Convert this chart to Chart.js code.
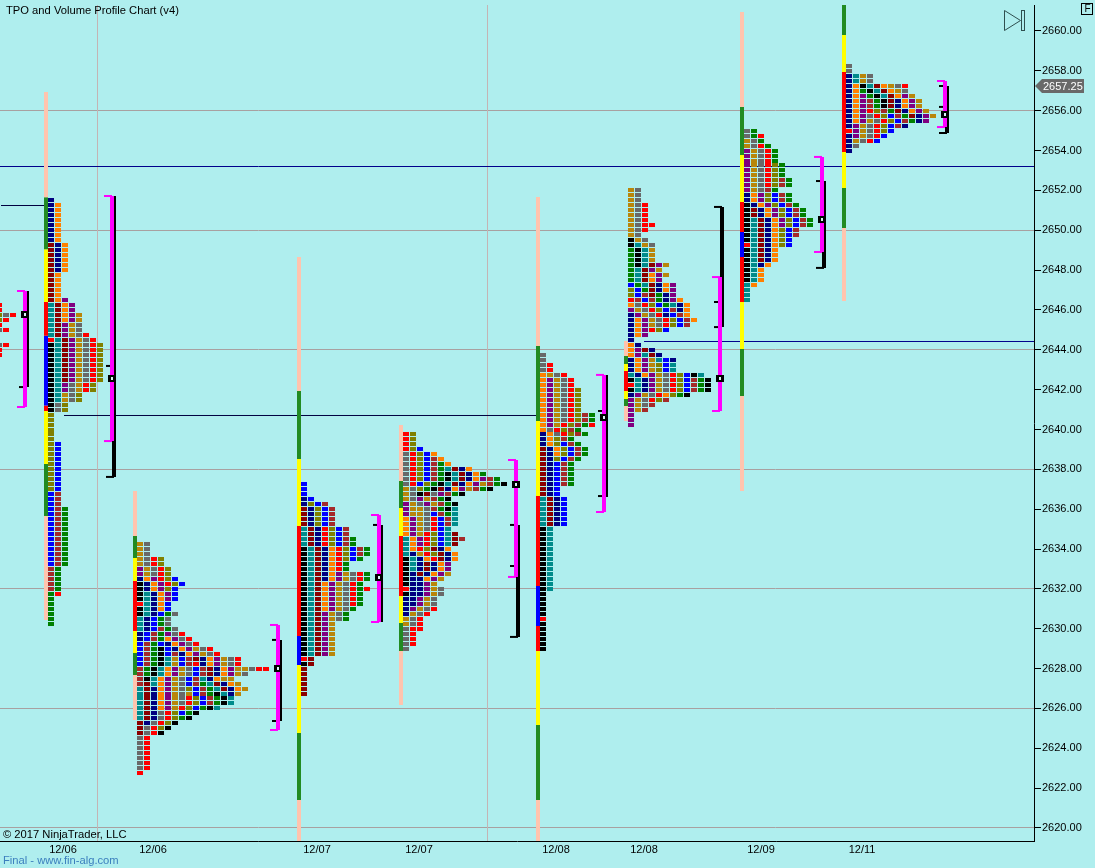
<!DOCTYPE html>
<html>
<head>
<meta charset="utf-8">
<title>TPO and Volume Profile Chart (v4)</title>
<style>
  html, body { margin: 0; padding: 0; background: #AFEEEE; overflow: hidden; }
  canvas { display: block; }
</style>
<script src="https://cdn.jsdelivr.net/npm/chart.js@4/dist/chart.umd.min.js"></script>
</head>
<body>
<canvas id="tpoChart" width="1095" height="868"></canvas>
<script>
// === AXES ===
const priceTicks = [2620, 2622, 2624, 2626, 2628, 2630, 2632, 2634, 2636, 2638, 2640, 2642, 2644, 2646, 2648, 2650, 2652, 2654, 2656, 2658, 2660];
const gridPrices = [2620, 2626, 2632, 2638, 2644, 2650, 2656];
const dateTicks = [63, 153, 317, 419, 556, 644, 761, 862];
const dateLabels = ["12/06", "12/06", "12/07", "12/07", "12/08", "12/08", "12/09", "12/11"];
const lastPrice = 2657.25;

// === TPO PROFILES: one letter per period, "row*n" repeats a row n times ===
const profile0 = ["r*2", "lar", "lr", "r", "ar", "*2", "ar", "r*2"];
const profile1 = ["n", "no*8", "mno*6", "mo*5", "mop", "tmop*2", "tmopg*2", "tmpga*2", "tmpgar", "rtmpgar", "ktmpgarl*8",
  "ktpagrl*2", "ktgal*2", "kal*2", "l*6", "lb*10", "bw*3", "bwe*12", "we*5", "er", "e*6"];
const profile2 = ["ga*3", "garl*2", "pgarl*2", "noprlb", "knoprlb", "knoplb", "ktnopb*2", "rtnob", "ktnob", "ktnbea", "tnbea*2",
  "tnbwea", "nbwepar", "nbweopar", "bwebnopar", "bwekbnopgar", "bwekbwnopgar", "bwektgbwmnopgar", "bwektgbwrnopgar",
  "wektopgabwmnopggarr", "wektopgabwmnopga", "wktopgabwtnogg", "wmtopgabwetmnog", "tmnopgalbwetmnog", "tmnopgagbwektng",
  "tmnopgarlbwekt*2", "tmnopgrlbekt", "tmnarlbek", "tmnarlek", "mnarlk", "marlk", "mark", "ar*7", "r"];
const profile3 = ["b*3", "nb", "nlbw", "mnlbw*4", "tmnrlbw*2", "tmnrlbwe*2", "ktmnorlbwe*2", "ktmnorlbe", "ktmnore*2",
  "ktmnopgare*2", "ktmopgare", "ktmopgarer", "ktmopgare*3", "ktmopgae", "ktmpgae*2", "ktmpg*7", "rm", "km", "m*6"];
const profile4 = ["rl*3", "rlb", "arlbo", "arlbwo", "arlbweo", "arlbwetmno", "arlbwektmnoe", "arlbwektmnopwe", "arblektmnopgwek",
  "galekmnopgwek", "gakmapwek", "gapgwek", "pgapgwek", "pggawekt", "pggabwet", "opgarbwt*2", "opgarbt", "opgrlbtm",
  "toprlbtmw", "toprlbtm", "torlmno", "tngrlmno", "ktnormno", "ktnmnop*2", "knmnopg", "knnopg", "knnpg", "rnnpga", "knnpga",
  "nnpga*2", "npgar", "ngar", "gar*2", "arr", "ar*3", "a"];
const profile5 = ["a*2", "ar*2", "ogar", "opgar*2", "opgarl*5", "opgarlwe*2", "opgrlwer", "oarlwe", "noarlwe", "nolwe", "nolbwe",
  "mnolbwe*2", "mnlbwe", "mnbwe*5", "mnb*2", "tmnb*6", "kt*13", "k*5", "r", "k*6"];
const profile6 = ["ga*3", "gar*4", "garr", "gar", "ga", "kga", "ktga", "ektg*3", "ektmpg", "etmpg", "etmopg", "etmop", "betmnop",
  "lbemnop", "lbwmenp", "rwbwenpo", "oarlbetno", "pgarlbwno", "npgarnbwo", "nopgarlbwo", "nopgarlbw", "noprlb", "nop", "n",
  "on", "opmn", "optmn", "nopgtbn", "nopglbt*2", "tnopgarlbkt", "ktnpgarlbwek", "rtnpgarlbwek", "ktnpgarlbwek", "npgarolek",
  "pgarlw", "pgaw", "pgw", "p*3"];
const profile7 = ["ae", "aer", "gae", "gare", "pgare*3", "pgarle*3", "pgarlwe*2", "pgawe", "noplbwe*2", "knoplbwe", "kmnoplbwe*2",
  "ktmnoplbwe*2", "ktmnolbw*2", "ktmnolb", "rtmnolb", "ktmno*3", "ktno", "kto*3", "to", "t*3"];
const profile8 = ["a*2", "ntga*2", "noktmogar", "noektmoga", "nopektmopg", "nopwekmnopg*2", "noprlwemnopg", "noparlbwemnpg",
  "nopgarlbwenp", "npgarlbwn", "rpgarlb", "npgarb", "ngarb", "na", "n"];

const profiles = [profile0, profile1, profile2, profile3, profile4, profile5, profile6, profile7, profile8];
const profileTop = [2646.25, 2651.5, 2634.25, 2637.25, 2639.75, 2643.75, 2652, 2655, 2658.25];
const profileLeft = [-4, 48, 137, 301, 403, 540, 628, 744, 846];

// === SESSION RANGE BARS: breaks in price, one colour letter per segment ===
const barX = [46, 135, 299, 401, 538, 626, 742, 844];
const barBreaks = [
  [2656.94, 2651.65, 2649.05, 2646.4, 2644.7, 2641.2, 2640.93, 2638.27, 2635.66, 2630.44],
  [2636.91, 2634.65, 2633.55, 2632.4, 2629.89, 2628.78, 2627.68, 2625.42],
  [2648.66, 2641.93, 2638.52, 2635.16, 2629.64, 2628.18, 2624.77, 2621.41, 2619.35],
  [2640.23, 2637.42, 2636.06, 2634.66, 2631.64, 2630.29, 2628.88, 2626.17],
  [2651.67, 2644.19, 2640.43, 2636.66, 2632.15, 2630.14, 2628.88, 2625.17, 2621.41, 2619.35],
  [2644.44, 2643.69, 2643.29, 2642.94, 2641.93, 2641.53, 2641.18, 2640.43],
  [2660.95, 2656.19, 2653.78, 2651.42, 2649.91, 2648.66, 2646.4, 2644.04, 2641.68, 2636.91],
  [2661.3, 2659.8, 2657.94, 2653.93, 2652.12, 2650.11, 2646.45]
];
const barSegments = ["sGYRBRYGs", "sGYRYGs", "sGYRBYGs", "sGYRYGs", "sGYRBRYGs", "sGYRYGs", "sGYRBRYGs", "GYRYGs"];

// === VALUE AREA BRACKETS AND POC ===
const bracketX = [25, 112, 278, 379, 516, 604, 720, 822, 945];
const magentaTop = [2646.95, 2651.72, 2630.19, 2635.71, 2638.47, 2642.74, 2647.65, 2653.68, 2657.49];
const magentaBottom = [2641.13, 2639.42, 2624.92, 2630.34, 2632.6, 2635.86, 2640.93, 2648.91, 2655.18];
const blackTop = [2646.95, 2651.72, 2629.44, 2635.21, 2635.21, 2642.74, 2651.17, 2652.47, 2657.24];
const blackBottom = [2642.13, 2637.62, 2625.37, 2630.34, 2629.59, 2636.61, 2645.14, 2648.11, 2654.88];
const blackMarks = [
  [2642.13], [2643.19, 2637.62], [2629.44, 2625.37], [2635.21], [2635.21, 2633.15, 2629.59],
  [2640.93, 2636.66], [2651.17, 2646.4, 2645.14], [2652.47, 2648.11], [2657.24, 2656.19, 2654.88]
];
const pocPrice = [2645.77, 2642.55, 2628.03, 2632.55, 2637.26, 2640.58, 2642.54, 2650.56, 2655.83];

// === LEVELS [price, from, to] AND SESSION BREAKS ===
const navyLevels = [[2653.199, 0, 1034], [2644.417, 644, 1034]];
const darkLevels = [[2651.242, 1, 45], [2640.703, 64, 537]];
const sessionBreaks = [97.5, 487.5];

const cellColors = {
  n: "#000080", o: "#FF8000", m: "#8B0000", t: "#008B8B", p: "#800080", g: "#B8860B", a: "#696969",
  r: "#FF0000", l: "#808000", k: "#000000", b: "#0000FF", w: "#A52A2A", e: "#008000"
};
const barColors = { s: "#FFC4AE", G: "#228B22", Y: "#FFFF00", R: "#FF0000", B: "#0000FF" };

function makeStamp(w, h, color, hole) {
  const c = document.createElement("canvas");
  c.width = w;
  c.height = h;
  const g = c.getContext("2d");
  g.fillStyle = color;
  g.fillRect(0, 0, w, h);
  if (hole) {
    g.fillStyle = "#D8F6F6";
    g.fillRect(3, 2, 2, 3);
  }
  return c;
}

// rows of letters -> one point list per colour
const cellPoints = {};
Object.keys(cellColors).forEach(k => { cellPoints[k] = []; });
profiles.forEach((rows, s) => {
  let price = profileTop[s];
  rows.forEach(row => {
    const [letters, times] = row.split("*");
    for (let i = 0; i < (times ? Number(times) : 1); i++) {
      [...letters].forEach((ch, col) => {
        cellPoints[ch].push({ x: profileLeft[s] + col * 7 + 3, y: price });
      });
      price -= 0.25;
    }
  });
});

const datasets = [];
function addLine(x1, y1, x2, y2, color, width, order) {
  datasets.push({
    data: [{ x: x1, y: y1 }, { x: x2, y: y2 }],
    showLine: true,
    borderColor: color,
    borderWidth: width,
    borderCapStyle: "butt",
    pointRadius: 0,
    order: order
  });
}

sessionBreaks.forEach(x => addLine(x, 2619, x, 2662, "#C4B4B4", 1, 9));
navyLevels.forEach(l => addLine(l[1], l[0], l[2], l[0], "#00008B", 1, 8));
darkLevels.forEach(l => addLine(l[1], l[0], l[2], l[0], "#000040", 1, 8));

barX.forEach((x, s) => {
  [...barSegments[s]].forEach((seg, i) => {
    addLine(x, barBreaks[s][i], x, barBreaks[s][i + 1], barColors[seg], 4, 7);
  });
});

bracketX.forEach((x, s) => {
  addLine(x + 2, blackTop[s], x + 2, blackBottom[s], "#000000", 4, 6);
  blackMarks[s].forEach(p => addLine(x - 6, p, x + 2, p, "#000000", 2, 6));
  addLine(x, magentaTop[s], x, magentaBottom[s], "#FF00FF", 4, 5);
  addLine(x - 8, magentaTop[s], x, magentaTop[s], "#FF00FF", 2, 5);
  addLine(x - 8, magentaBottom[s], x, magentaBottom[s], "#FF00FF", 2, 5);
});

Object.keys(cellColors).forEach(k => {
  datasets.push({
    data: cellPoints[k],
    pointStyle: makeStamp(6, 4, cellColors[k]),
    pointRadius: 3,
    order: 3
  });
});

datasets.push({
  data: pocPrice.map((p, s) => ({ x: bracketX[s], y: p })),
  pointStyle: makeStamp(8, 7, "#000000", true),
  pointRadius: 4,
  order: 1
});

// snap the cell stamps to whole pixels like the original platform does
const snapCells = {
  id: "snapCells",
  beforeDatasetsDraw(chart) {
    const ctx = chart.ctx;
    const orig = ctx.drawImage.bind(ctx);
    ctx.drawImage = function (img, x, y, w, h) {
      const t = ctx.getTransform();
      ctx.save();
      ctx.setTransform(1, 0, 0, 1, 0, 0);
      orig(img, Math.round(t.e + x), Math.round(t.f + y), w, h);
      ctx.restore();
    };
    chart.$restoreDraw = () => { delete ctx.drawImage; };
  },
  afterDatasetsDraw(chart) {
    chart.$restoreDraw();
  }
};

const overlay = {
  id: "overlay",
  afterDraw(chart) {
    const ctx = chart.ctx;
    const yScale = chart.scales.y;
    ctx.save();
    ctx.textBaseline = "middle";
    ctx.textAlign = "left";
    ctx.font = "11.2px 'Liberation Sans'";
    ctx.fillStyle = "#000000";
    ctx.fillText("TPO and Volume Profile Chart (v4)", 6, 11);
    ctx.fillText("\u00A9 2017 NinjaTrader, LLC", 3, 835);
    ctx.fillStyle = "#3C7FBE";
    ctx.fillText("Final - www.fin-alg.com", 3, 861);

    // jump-to-last icon
    ctx.strokeStyle = "#2F4F4F";
    ctx.lineWidth = 1;
    ctx.beginPath();
    ctx.moveTo(1004.5, 10.5);
    ctx.lineTo(1020.5, 20.5);
    ctx.lineTo(1004.5, 30.5);
    ctx.closePath();
    ctx.stroke();
    ctx.strokeRect(1021.5, 10.5, 3, 20);

    // F button
    ctx.strokeStyle = "#000000";
    ctx.strokeRect(1081.5, 3.5, 11, 11);
    ctx.fillStyle = "#000000";
    ctx.font = "10px 'Liberation Sans'";
    ctx.textAlign = "center";
    ctx.fillText("F", 1087.5, 9.5);

    // last price tag
    const py = Math.round(yScale.getPixelForValue(lastPrice));
    ctx.fillStyle = "#696969";
    ctx.beginPath();
    ctx.moveTo(1035, py);
    ctx.lineTo(1042, py - 7);
    ctx.lineTo(1084, py - 7);
    ctx.lineTo(1084, py + 7);
    ctx.lineTo(1042, py + 7);
    ctx.closePath();
    ctx.fill();
    ctx.fillStyle = "#FFFFFF";
    ctx.font = "11px 'Liberation Sans'";
    ctx.textAlign = "left";
    ctx.fillText(lastPrice.toFixed(2), 1043, py + 1);
    ctx.restore();
  }
};

new Chart(document.getElementById("tpoChart").getContext("2d"), {
  type: "scatter",
  data: { datasets: datasets },
  options: {
    responsive: false,
    animation: false,
    events: [],
    layout: { autoPadding: false, padding: { top: 5, left: 0, right: 0, bottom: 0 } },
    plugins: { legend: { display: false }, tooltip: { enabled: false }, title: { display: false } },
    scales: {
      x: {
        type: "linear",
        min: 0,
        max: 1034,
        afterFit: scale => { scale.height = 27; scale.paddingLeft = 0; scale.paddingRight = 0; },
        afterBuildTicks: scale => { scale.ticks = dateTicks.map(v => ({ value: v })); },
        grid: { display: false, drawTicks: false },
        border: { color: "#000000", width: 1 },
        ticks: {
          autoSkip: false,
          maxRotation: 0,
          padding: 2,
          color: "#000000",
          font: { family: "Liberation Sans", size: 11 },
          callback: (value, i) => dateLabels[i]
        }
      },
      y: {
        position: "right",
        min: 2620 - 13 / 19.925,
        max: 2660 + 26 / 19.925,
        afterFit: scale => { scale.width = 61; scale.paddingTop = 0; scale.paddingBottom = 0; },
        afterBuildTicks: scale => { scale.ticks = priceTicks.map(v => ({ value: v })); },
        grid: {
          color: c => (c.tick && gridPrices.includes(c.tick.value) ? "#A8A0A0" : "rgba(0,0,0,0)"),
          tickColor: "#000000",
          tickLength: 7
        },
        border: { color: "#000000", width: 1 },
        ticks: {
          autoSkip: false,
          padding: 1,
          color: "#000000",
          font: { family: "Liberation Sans", size: 11 },
          callback: value => value.toFixed(2)
        }
      }
    }
  },
  plugins: [snapCells, overlay]
});
</script>
</body>
</html>
